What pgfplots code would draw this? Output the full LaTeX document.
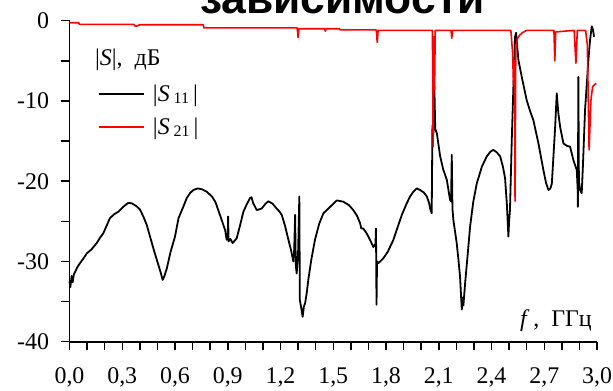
\documentclass[border=0pt]{standalone}
\usepackage{fontspec}
\setmainfont{Liberation Serif}
\newfontfamily\titlefont{Liberation Sans}
\usepackage{pgfplots}
\pgfplotsset{compat=1.18}
\begin{document}
\begin{tikzpicture}[x=1bp,y=1bp]
\begin{axis}[
  at={(0pt,0pt)}, anchor=origin,
  scale only axis, width=527.5bp, height=321bp,
  xmin=0, xmax=3, ymin=-40, ymax=0,
  axis x line*=bottom, axis y line*=left,
  axis line style={line width=1.8bp, black},
  tick style={line width=1.5bp, black},
  tick align=outside,
  major tick length=8bp, minor tick length=8bp,
  xtick={0,0.3,0.6,0.9,1.2,1.5,1.8,2.1,2.4,2.7,3.0},
  xticklabels={{0,0},{0,3},{0,6},{0,9},{1,2},{1,5},{1,8},{2,1},{2,4},{2,7},{3,0}},
  minor xtick={0.1,0.2,0.4,0.5,0.7,0.8,1.0,1.1,1.3,1.4,1.6,1.7,1.9,2.0,2.2,2.3,2.5,2.6,2.8,2.9},
  ytick={-40,-30,-20,-10,0},
  yticklabels={-40,-30,-20,-10,0},
  minor ytick={-35,-25,-15,-5},
  tick label style={font=\fontsize{24}{24}\selectfont},
  xticklabel style={yshift=-14.5bp},
  yticklabel style={xshift=-9bp},
  clip=false,
  legend style={at={(0.054,0.80)}, anchor=north west, draw=none, fill=none,
    inner sep=0pt, font=\fontsize{24}{24}\selectfont, row sep=15bp,
    column sep=8bp, nodes={inner sep=0pt}},
  legend cell align=left,
  legend image code/.code={\draw[#1] (0bp,0bp) -- (45bp,0bp);},
]
\addplot[black, line width=1.8bp, line join=round] coordinates {
(0.000,-32.5) (0.005,-33.2) (0.012,-31.8) (0.018,-32.6) (0.025,-31.6) (0.032,-31.3)
(0.045,-30.7) (0.060,-30.2) (0.080,-29.6) (0.098,-29.0) (0.125,-28.5) (0.155,-27.7)
(0.175,-27.0) (0.192,-26.5) (0.210,-25.6) (0.230,-24.6) (0.255,-24.1) (0.278,-23.8)
(0.305,-23.2) (0.334,-22.7) (0.354,-22.75) (0.380,-23.1) (0.400,-23.5) (0.420,-24.4)
(0.440,-25.5) (0.458,-26.9) (0.480,-28.6) (0.505,-30.4) (0.520,-31.5) (0.530,-32.3)
(0.540,-31.8) (0.553,-30.9) (0.575,-28.8) (0.600,-26.9) (0.620,-24.6) (0.645,-23.3)
(0.667,-22.1) (0.685,-21.5) (0.704,-21.1) (0.730,-20.9) (0.752,-21.0) (0.780,-21.3)
(0.810,-21.9) (0.830,-22.6) (0.846,-23.6) (0.865,-24.8) (0.885,-26.1) (0.894,-27.3)
(0.900,-27.0) (0.902,-24.4) (0.905,-27.5) (0.915,-27.2) (0.928,-27.7) (0.940,-27.4)
(0.951,-27.1) (0.970,-25.5) (0.989,-23.8) (1.010,-22.8) (1.027,-22.1) (1.035,-22.0)
(1.045,-22.75) (1.065,-23.6) (1.080,-23.5) (1.093,-23.4) (1.115,-22.8) (1.131,-22.5)
(1.155,-22.8) (1.178,-23.4) (1.195,-23.8) (1.207,-24.2) (1.225,-25.5) (1.245,-27.3)
(1.260,-28.6) (1.273,-30.0) (1.278,-28.5) (1.283,-24.2) (1.287,-30.5) (1.292,-31.5)
(1.300,-29.0) (1.307,-21.9) (1.310,-34.8) (1.318,-35.8) (1.326,-36.9) (1.333,-35.6)
(1.340,-35.2) (1.350,-33.8) (1.358,-32.3) (1.375,-29.8) (1.396,-27.3) (1.420,-25.3)
(1.444,-24.0) (1.482,-23.2) (1.520,-22.4) (1.557,-22.55) (1.590,-23.0) (1.614,-23.6)
(1.635,-24.3) (1.652,-25.2) (1.660,-25.9) (1.671,-25.9) (1.690,-26.5) (1.709,-27.3)
(1.728,-28.2) (1.740,-27.8) (1.743,-25.9) (1.746,-35.4) (1.749,-30.0) (1.757,-30.2)
(1.785,-29.6) (1.810,-28.8) (1.842,-27.3) (1.865,-25.8) (1.890,-24.2) (1.918,-22.75)
(1.937,-21.9) (1.956,-21.3) (1.975,-20.9) (1.994,-21.1) (2.015,-21.4) (2.032,-21.9)
(2.045,-22.7) (2.051,-23.4) (2.060,-24.0) (2.064,-13.0) (2.070,-14.0) (2.075,-8.2)
(2.080,-13.5) (2.089,-14.0) (2.108,-16.9) (2.125,-18.5) (2.146,-19.85) (2.164,-22.3)
(2.170,-22.5) (2.174,-16.7) (2.178,-23.5) (2.183,-24.8) (2.202,-27.7) (2.212,-29.8)
(2.221,-31.9) (2.231,-36.0) (2.236,-34.5) (2.240,-35.5) (2.250,-32.7) (2.265,-29.0)
(2.278,-25.7) (2.296,-22.6) (2.316,-20.3) (2.345,-18.2) (2.373,-16.9) (2.395,-16.3)
(2.410,-16.1) (2.430,-16.4) (2.449,-16.9) (2.465,-18.2) (2.477,-19.6) (2.487,-22.75)
(2.492,-25.0) (2.496,-26.9) (2.500,-25.0) (2.505,-23.6) (2.515,-15.0) (2.524,-8.6)
(2.534,-2.0) (2.540,-1.5) (2.543,-2.4) (2.553,-4.9) (2.572,-7.0) (2.600,-9.9)
(2.620,-11.3) (2.638,-12.4) (2.667,-15.3) (2.695,-18.6) (2.710,-20.2) (2.724,-21.1)
(2.735,-20.9) (2.743,-20.3) (2.752,-17.0) (2.762,-13.2) (2.771,-9.05) (2.780,-11.5)
(2.790,-13.2) (2.809,-15.3) (2.830,-15.6) (2.847,-15.7) (2.866,-17.4) (2.885,-18.6)
(2.890,-21.0) (2.891,-23.2) (2.894,-7.0) (2.897,-20.0) (2.904,-21.1) (2.913,-21.5)
(2.920,-18.0) (2.932,-11.1) (2.940,-8.5) (2.951,-4.9) (2.960,-2.5) (2.970,-0.7)
(2.978,-1.2) (2.983,-2.0)
};
\addlegendentry{\textbar\textit{S}\,\raisebox{-2bp}{\fontsize{16}{16}\selectfont 11}\,\textbar}
\addplot[red, line width=1.6bp, line join=round] coordinates {
(0.000,-0.25) (0.052,-0.25) (0.056,-0.45) (0.365,-0.45) (0.375,-0.7) (0.390,-0.6)
(0.400,-0.5) (0.760,-0.5) (0.765,-0.9) (1.295,-0.9) (1.300,-2.1) (1.305,-1.0)
(1.450,-1.0) (1.455,-1.3) (1.460,-1.0) (1.535,-1.0) (1.540,-1.15) (1.745,-1.15)
(1.750,-2.7) (1.755,-1.2) (2.064,-1.2) (2.068,-15.7) (2.072,-2.0) (2.076,-8.5)
(2.080,-1.2) (2.170,-1.2) (2.174,-2.2) (2.178,-1.2) (2.510,-1.2) (2.520,-4.0)
(2.525,-8.0) (2.530,-5.0) (2.534,-22.5) (2.538,-3.5) (2.548,-2.2) (2.560,-1.8)
(2.575,-1.5) (2.600,-1.2) (2.755,-1.2) (2.760,-5.0) (2.765,-1.4) (2.870,-1.2)
(2.880,-5.3) (2.888,-1.2) (2.935,-1.2) (2.945,-3.0) (2.955,-16.1) (2.965,-10.0)
(2.975,-8.2) (2.995,-7.8)
};
\addlegendentry{\textbar\textit{S}\,\raisebox{-2bp}{\fontsize{16}{16}\selectfont 21}\,\textbar}
\end{axis}
\begin{scope}[shift={(-69.5,-369.3)}]
\node[anchor=base west, inner sep=0pt, font=\fontsize{24}{24}\selectfont] at (95,325) {\textbar\textit{S}\textbar,\ \ дБ};
\node[anchor=base east, inner sep=0pt, font=\fontsize{24}{24}\selectfont] at (592,64) {\textit{f}\,,\ \ ГГц};
\node[anchor=base west, inner sep=0pt, font=\titlefont\bfseries\fontsize{44.5}{44.5}\selectfont] at (200,376.2) {зависимости};
\pgfresetboundingbox
\useasboundingbox (0,0) rectangle (613,390);
\end{scope}
\end{tikzpicture}
\end{document}
